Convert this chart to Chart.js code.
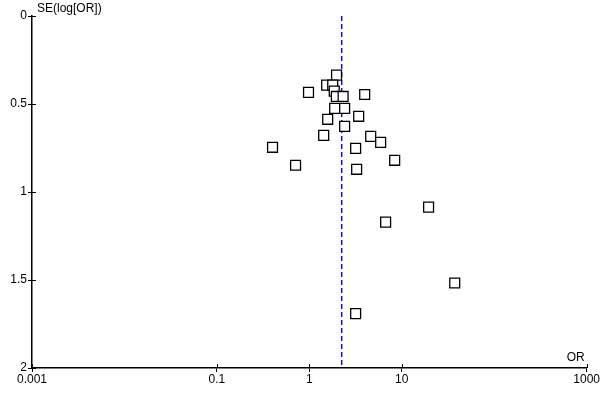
<!DOCTYPE html>
<html><head><meta charset="utf-8">
<script src="https://cdn.jsdelivr.net/npm/chart.js@4"></script>
<style>html,body{margin:0;padding:0;background:#fff}#wrap{width:600px;height:400px}</style>
</head><body><div id="wrap"><canvas id="c" width="600" height="400"></canvas></div>
<script>
const studyOR = [1.97,1.54,1.79,1.86,0.98,3.97,1.96,2.32,1.88,2.41,3.42,1.58,2.41,1.43,4.61,5.91,0.40,3.17,8.38,0.71,3.25,19.5,6.69,37.4,3.17];
const studySE = [0.336,0.393,0.393,0.427,0.434,0.446,0.457,0.457,0.525,0.525,0.570,0.587,0.627,0.678,0.684,0.718,0.746,0.752,0.820,0.848,0.871,1.086,1.171,1.517,1.691];
const pooledOR = 2.24;
const xTicks = [0.001, 0.1, 1, 10, 1000];
const xTickLabels = ['0.001', '0.1', '1', '10', '1000'];
const yTicks = [0, 0.5, 1, 1.5, 2];
const yTickLabels = ['0', '0.5', '1', '1.5', '2'];
const xTitle = 'OR';
const yTitle = 'SE(log[OR])';

const points = studyOR.map((v, i) => ({x: v, y: studySE[i]}));
const FONT = {family: 'Liberation Sans, Arial, sans-serif', size: 12};

const extras = {
  id: 'extras',
  afterDraw(chart) {
    const ctx = chart.ctx, xs = chart.scales.x, ys = chart.scales.y;
    ctx.save();
    ctx.strokeStyle = '#000'; ctx.lineWidth = 1;
    xTicks.forEach(v => { const px = Math.round(xs.getPixelForValue(v)) + 0.5; ctx.beginPath(); ctx.moveTo(px, ys.bottom - 4); ctx.lineTo(px, ys.bottom); ctx.stroke(); });
    yTicks.forEach(v => { const py = Math.round(ys.getPixelForValue(v)) + 0.5; ctx.beginPath(); ctx.moveTo(xs.left, py); ctx.lineTo(xs.left + 4, py); ctx.stroke(); });
    ctx.fillStyle = '#000';
    ctx.font = '12px Liberation Sans, Arial, sans-serif';
    ctx.textBaseline = 'middle';
    ctx.textAlign = 'left';
    ctx.fillText(yTitle, xs.left + 5, ys.top - 7);
    ctx.textAlign = 'right';
    ctx.fillText(xTitle, xs.right - 2, ys.bottom - 10);
    ctx.restore();
  }
};

new Chart(document.getElementById('c'), {
  type: 'scatter',
  data: {
    datasets: [
      {
        data: points,
        pointStyle: 'rect',
        pointRadius: 7,
        pointHoverRadius: 7,
        pointBackgroundColor: '#fff',
        pointBorderColor: '#000',
        pointBorderWidth: 1.3,
        order: 1
      },
      {
        type: 'line',
        data: [{x: pooledOR, y: yTicks[0]}, {x: pooledOR, y: yTicks[yTicks.length - 1]}],
        borderColor: '#1111dd',
        borderWidth: 1.5,
        borderDash: [5, 3],
        pointRadius: 0,
        fill: false,
        order: 2
      }
    ]
  },
  options: {
    responsive: false,
    animation: false,
    events: [],
    layout: {padding: {top: 16, right: 13, left: 0, bottom: 0}},
    plugins: {legend: {display: false}, tooltip: {enabled: false}},
    scales: {
      x: {
        type: 'logarithmic',
        min: xTicks[0], max: xTicks[xTicks.length - 1],
        afterBuildTicks: s => { s.ticks = xTicks.map(v => ({value: v})); },
        afterFit: s => { s.height = 32; },
        grid: {display: true, drawOnChartArea: false, drawTicks: true, tickLength: 4, color: '#000'},
        border: {display: true, color: '#000', width: 1.5},
        ticks: {color: '#000', font: FONT, padding: 0, maxRotation: 0, autoSkip: false,
          callback: (v) => { const i = xTicks.indexOf(v); return i >= 0 ? xTickLabels[i] : ''; }}
      },
      y: {
        type: 'linear',
        reverse: true,
        min: yTicks[0], max: yTicks[yTicks.length - 1],
        afterBuildTicks: s => { s.ticks = yTicks.map(v => ({value: v})); },
        afterFit: s => { s.width = 32; },
        grid: {display: true, drawOnChartArea: false, drawTicks: true, tickLength: 4, color: '#000'},
        border: {display: true, color: '#000', width: 1.5},
        ticks: {color: '#000', font: FONT, padding: 1, autoSkip: false,
          callback: (v) => { const i = yTicks.indexOf(v); return i >= 0 ? yTickLabels[i] : ''; }}
      }
    }
  },
  plugins: [extras]
});
</script></body></html>
